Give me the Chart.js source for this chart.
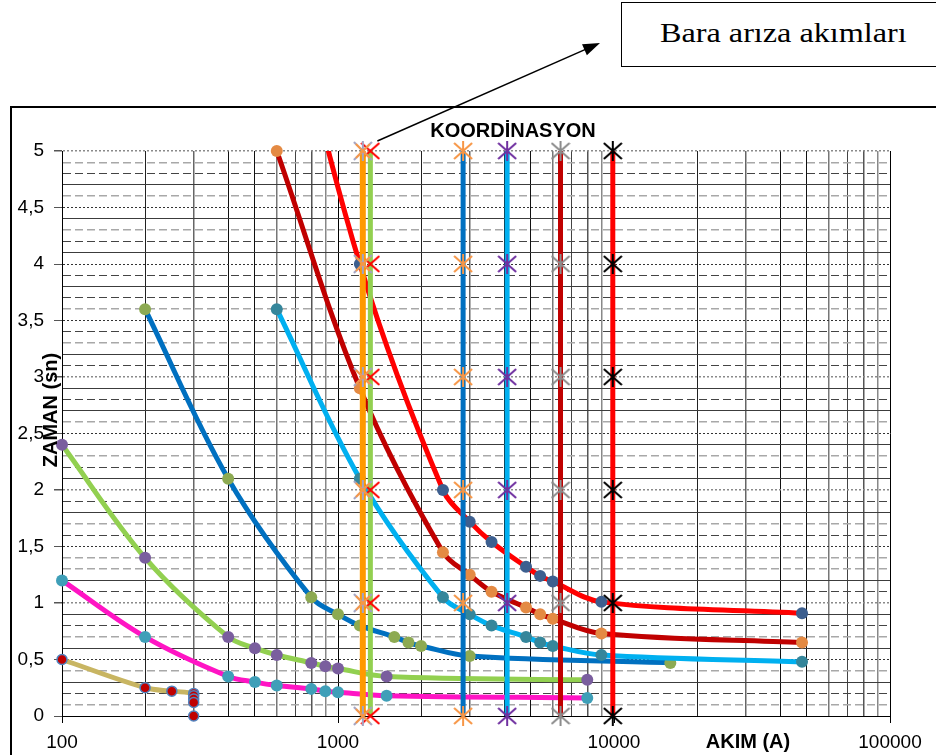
<!DOCTYPE html>
<html><head><meta charset="utf-8">
<script src="https://cdn.jsdelivr.net/npm/chart.js@4.4.1/dist/chart.umd.min.js"></script>
<style>
html,body{margin:0;padding:0;background:#fff;}
#wrap{position:relative;width:936px;height:755px;overflow:hidden;background:#fff;}
#frame{position:absolute;left:10px;top:106px;width:1000px;height:700px;border:2px solid #000;}
#note{position:absolute;left:621px;top:2px;width:400px;height:65px;border:1.5px solid #000;box-sizing:border-box;}
#note span{position:absolute;left:38px;top:13px;font-family:"Liberation Serif","Times New Roman",serif;font-size:28px;line-height:34px;transform:scaleX(1.15);transform-origin:left center;white-space:nowrap;color:#000;}
canvas{position:absolute;left:0;top:0;}
</style></head>
<body>
<div id="wrap">
  <div id="frame"></div>
  <div id="note"><span>Bara arıza akımları</span></div>
  <canvas id="c" width="936" height="755"></canvas>
</div>
<script>
// ---- tick labels ----
const xTickLabels = ['100','1000','10000','100000'];
const yTickLabels = ['0','0,5','1','1,5','2','2,5','3','3,5','4','4,5','5'];

// ---- curve data (AKIM A, ZAMAN sn) ----
const c1x = [100,200,250,300,300,300,300,300];
const c1y = [0.5,0.25,0.22,0.2,0.18,0.15,0.12,0];
const c23x = [100,200,400,500,600,800,900,1000,1500,8000];
const c2y = [1.2,0.7,0.35,0.3,0.27,0.24,0.22,0.21,0.18,0.16];
const c3y = [2.4,1.4,0.7,0.6,0.54,0.47,0.44,0.42,0.35,0.32];
const c4x = [200,400,800,1000,1200,1600,1800,2000,3000,16000];
const c4y = [3.6,2.1,1.05,0.9,0.8,0.7,0.65,0.62,0.53,0.47];
const c567x = [600,1200,2400,3000,3600,4800,5400,6000,9000,48000];
const c5y = [3.6,2.1,1.05,0.9,0.8,0.7,0.65,0.62,0.54,0.48];
const c6y = [5.0,2.9,1.45,1.25,1.1,0.96,0.9,0.86,0.73,0.65];
const c7y = [6.84,4.0,2.0,1.72,1.54,1.32,1.24,1.19,1.01,0.91];

// ---- bus fault currents (vertical lines) ----
const faultCurrents = [1230,1310,2840,4100,6400,9900];
const faultTimes = [0,1,2,3,4,5];

// ---- styling helpers ----
const FONT = '"Liberation Sans", Arial, sans-serif';
function pts(xs, ys){ return xs.map((x,i)=>({x:x, y:ys[i]})); }
function markImg(color, vertical, under){
  const c = document.createElement('canvas'); c.width = 20; c.height = 20;
  const g = c.getContext('2d');
  g.lineCap = 'butt';
  if (under){
    g.strokeStyle = under; g.lineWidth = 2;
    g.beginPath(); g.moveTo(1,1); g.lineTo(19,19); g.moveTo(19,1); g.lineTo(1,19);
    g.moveTo(10,0); g.lineTo(10,20); g.stroke();
  }
  g.strokeStyle = color; g.lineWidth = 2;
  g.beginPath();
  if (under){ g.moveTo(3,3); g.lineTo(17,17); g.moveTo(17,3); g.lineTo(3,17); }
  else { g.moveTo(1,2); g.lineTo(19,18); g.moveTo(19,2); g.lineTo(1,18); }
  if (vertical){ g.moveTo(10,0); g.lineTo(10,20); }
  g.stroke();
  return c;
}
const gridCodes = 'SLDSL'+'o'+'SLDS'+'g'+'DSLL'+'o'+'DLSD'+'g'+'SDLS'+'o'+'LSDS'+'g'+'DSLD'+'o'+'LDSD'+'o'+'SDLS'+'o'+'LSDL'+'g';
const gridStyle = {
  S:{c:'#3c3c3c', w:1, d:[]},
  L:{c:'#a8a8a8', w:1.5, d:[8,4]},
  D:{c:'#444444', w:1, d:[8,4]},
  o:{c:'#333333', w:1, d:[2,2]},
  g:{c:'#8a8a8a', w:1.5, d:[2,2]}
};
function yStyle(v){
  const k = Math.round(v*10);
  if (k === 0) return {c:'#000', w:1, d:[]};
  return gridStyle[gridCodes[k]] || gridStyle.S;
}
const sigColors = ['#000','#000','#222','#666','#111','#111','#777','#444','#555','#888'];
function xSig(v){ const e = Math.floor(Math.log10(v)+1e-9); return Math.round(v/Math.pow(10,e)); }
function isDecade(v){ const e = Math.log10(v); return Math.abs(e-Math.round(e))<1e-9; }

const verticalColors = ['#FF9900','#92D050','#0070C0','#00B0F0','#C00000','#FF0000'];
const verticalMarks = [
  markImg('#F79646', false, '#A3A3C2'),
  markImg('#FF0000', false, null),
  markImg('#F79646', true, null),
  markImg('#7030A0', true, null),
  markImg('#8C8C8C', true, null),
  markImg('#000000', true, null)
];
const verticalWidths = [6,5,5,5,5,5];

const datasets = [];
faultCurrents.forEach((fx,i)=>{
  datasets.push({
    data: faultTimes.map(t=>({x:fx, y:t})),
    borderColor: verticalColors[i], borderWidth: verticalWidths[i],
    pointStyle: verticalMarks[i], pointRadius: 10, pointBorderWidth: 0,
    tension: 0, clip: 14
  });
});
function curve(xs, ys, line, mark, extra){
  return Object.assign({
    data: pts(xs, ys), borderColor: line, borderWidth: 5,
    pointBackgroundColor: mark, pointBorderColor: mark, pointBorderWidth: 0,
    pointRadius: 6, pointStyle: 'circle', tension: 0.35, clip: 9
  }, extra||{});
}
datasets.push(curve(c567x, c7y, '#FF0000', '#3D5F8F', {clip:{left:9,top:0,right:9,bottom:9}}));
datasets.push(curve(c567x, c6y, '#C00000', '#E48A43'));
datasets.push(curve(c567x, c5y, '#00B0F0', '#35869B'));
datasets.push(curve(c4x, c4y, '#0070C0', '#8DAA52'));
datasets.push(curve(c23x, c3y, '#92D050', '#7A5E9E'));
datasets.push(curve(c23x, c2y, '#FF14C4', '#3F9FB8'));
datasets.push(curve(c1x, c1y, '#C8B562', '#C00000', {
  pointBorderColor:'#4F81BD', pointBorderWidth:1.5, pointRadius:5,
  segment:{borderColor: ctx => ctx.p1DataIndex === c1x.length-1 ? 'rgba(0,0,0,0)' : '#C8B562'}
}));

const overlay = {
  id:'overlay',
  afterDraw(chart){
    const {ctx} = chart; const xs = chart.scales.x, ys = chart.scales.y;
    ctx.save();
    ctx.fillStyle = '#000';
    ctx.font = 'bold 20px ' + FONT;
    ctx.textAlign = 'center'; ctx.textBaseline = 'middle';
    ctx.fillText('KOORDİNASYON', 513, 131);
    ctx.fillText('AKIM (A)', 748, 742);
    ctx.save();
    ctx.translate(51, 410); ctx.rotate(-Math.PI/2);
    ctx.fillText('ZAMAN (sn)', 0, 0);
    ctx.restore();
    // arrow to the note box
    const sx = xs.getPixelForValue(faultCurrents[1]) + 7;
    const sy = ys.getPixelForValue(5) - 10;
    const ex = 600, ey = 43;
    const ang = Math.atan2(ey - sy, ex - sx);
    ctx.strokeStyle = '#000'; ctx.lineWidth = 1.5;
    ctx.beginPath(); ctx.moveTo(sx, sy);
    ctx.lineTo(ex - 14*Math.cos(ang), ey - 14*Math.sin(ang)); ctx.stroke();
    ctx.beginPath();
    ctx.moveTo(ex, ey);
    ctx.lineTo(ex - 17*Math.cos(ang) + 6*Math.sin(ang), ey - 17*Math.sin(ang) - 6*Math.cos(ang));
    ctx.lineTo(ex - 17*Math.cos(ang) - 6*Math.sin(ang), ey - 17*Math.sin(ang) + 6*Math.cos(ang));
    ctx.closePath(); ctx.fill();
    ctx.restore();
  }
};

new Chart(document.getElementById('c'), {
  type: 'line',
  data: { datasets: datasets },
  options: {
    responsive: false, animation: false,
    layout: { padding: { left: 0, right: 46, top: 151, bottom: 0 } },
    plugins: { legend: {display:false}, tooltip: {enabled:false}, title:{display:false} },
    scales: {
      x: {
        type: 'logarithmic', min: 100, max: 100000,
        afterBuildTicks(scale){
          const t = [];
          for (let e = 2; e <= 4; e++) for (let s = 1; s <= 9; s++) t.push({value: s*Math.pow(10,e)});
          t.push({value: 100000});
          scale.ticks = t;
        },
        afterFit(scale){ scale.height = 39; },
        ticks: {
          autoSkip: false, maxRotation: 0, minRotation: 0, padding: 8, color: '#000',
          font: { family: FONT, size: 19 },
          callback: (v) => isDecade(v) ? xTickLabels[Math.round(Math.log10(v)) - 2] : ''
        },
        grid: {
          color: ctx => ctx.tick ? sigColors[xSig(ctx.tick.value)] : '#000',
          lineWidth: ctx => (ctx.tick && [3,6,8,9].includes(xSig(ctx.tick.value))) ? 1.5 : 1,
          tickLength: 7,
          tickColor: ctx => (ctx.tick && isDecade(ctx.tick.value)) ? '#000' : 'rgba(0,0,0,0)'
        },
        border: { display: true, color: '#000', width: 1 }
      },
      y: {
        type: 'linear', min: 0, max: 5,
        afterBuildTicks(scale){
          const t = [];
          for (let k = 0; k <= 50; k++) t.push({value: k/10});
          scale.ticks = t;
        },
        afterFit(scale){ scale.width = 62; },
        ticks: {
          autoSkip: false, padding: 10, color: '#000',
          font: { family: FONT, size: 19 },
          callback: (v) => { const h = v*2; return Math.abs(h - Math.round(h)) < 1e-6 ? yTickLabels[Math.round(h)] : ''; }
        },
        grid: {
          color: ctx => ctx.tick ? yStyle(ctx.tick.value).c : '#000',
          lineWidth: ctx => ctx.tick ? yStyle(ctx.tick.value).w : 1,
          tickLength: 8,
          tickColor: ctx => (ctx.tick && Math.abs(ctx.tick.value*2 - Math.round(ctx.tick.value*2)) < 1e-6) ? '#555' : 'rgba(0,0,0,0)'
        },
        border: { display: true, color: '#000', width: 1, dash: ctx => ctx.tick ? yStyle(ctx.tick.value).d : [] }
      }
    }
  },
  plugins: [overlay]
});
</script>
</body></html>
